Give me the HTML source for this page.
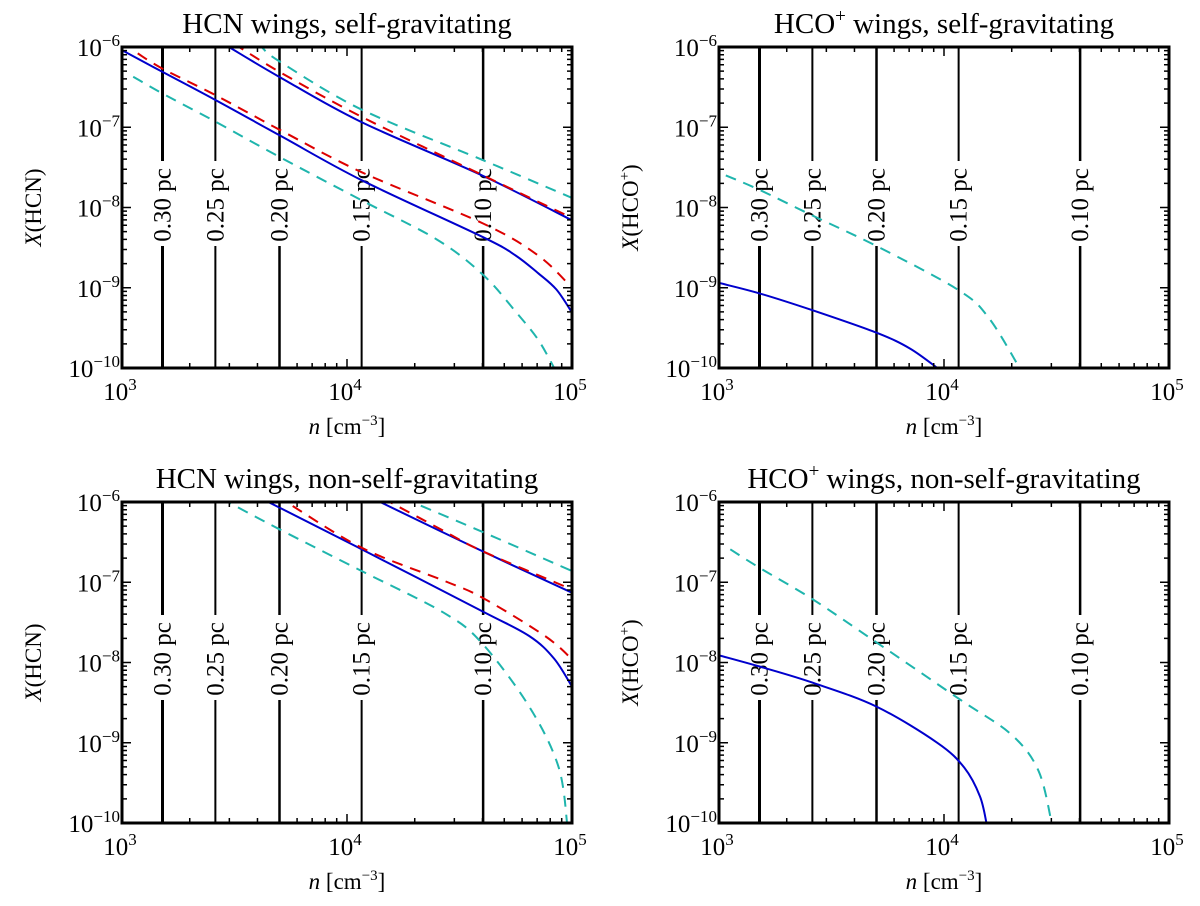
<!DOCTYPE html>
<html><head><meta charset="utf-8">
<style>
html,body{margin:0;padding:0;background:#fff;}
svg{display:block;font-family:"Liberation Serif",serif;}
</style></head>
<body>
<svg id="fig" width="1200" height="906" viewBox="0 0 1200 906" xmlns="http://www.w3.org/2000/svg"></svg>
<script>
// Data: each series is [log10 n, log10 X]
const radiusLabels = ["0.30 pc","0.25 pc","0.20 pc","0.15 pc","0.10 pc"];
const radiusLogN = [3.18, 3.415, 3.70, 4.065, 4.605];
const radiusWidth = [3, 2, 2.5, 2, 2.5];
const xTickExp = [3,4,5];
const yTickExp = [-6,-7,-8,-9,-10];

const tlBlueUpper = [[3.45,-5.96],[3.475,-6],[3.698,-6.37],[4.06,-6.93],[4.6,-7.6],[5,-8.16]];
const tlBlueLower = [[3,-6.04],[3.18,-6.31],[3.415,-6.66],[3.70,-7.1],[4.065,-7.66],[4.605,-8.37],[4.75,-8.6],[4.85,-8.82],[4.93,-9.02],[5,-9.31]];
const tlRedUpper = [[3.5,-5.97],[3.52,-6],[3.70,-6.31],[4.065,-6.87],[4.605,-7.6],[5,-8.13]];
const tlRedLower = [[3.07,-6.08],[3.18,-6.27],[3.415,-6.6],[3.70,-7.03],[4.065,-7.56],[4.605,-8.2],[4.85,-8.6],[5,-9.0]];
const tlCyanUpper = [[3.6,-5.97],[3.62,-6],[3.70,-6.18],[4.065,-6.78],[4.605,-7.41],[5,-7.88]];
const tlCyanLower = [[3.05,-6.37],[3.18,-6.58],[3.415,-6.93],[3.70,-7.37],[4.065,-7.91],[4.4,-8.4],[4.605,-8.84],[4.75,-9.3],[4.85,-9.65],[4.93,-10.05]];

const trBlue = [[3,-8.94],[3.18,-9.07],[3.415,-9.28],[3.70,-9.56],[3.85,-9.76],[3.98,-10.02]];
const trCyan = [[3.03,-7.6],[3.18,-7.78],[3.415,-8.1],[3.70,-8.48],[4.065,-9.03],[4.2,-9.38],[4.34,-10.02]];

const blBlueUpper = [[4.13,-5.97],[4.147,-6],[4.6,-6.61],[5,-7.13]];
const blBlueLower = [[3.63,-5.97],[3.65,-6],[3.70,-6.07],[4.08,-6.61],[4.6,-7.36],[4.81,-7.67],[4.92,-7.95],[5,-8.3]];
const blRedUpper = [[4.17,-5.97],[4.19,-6],[4.43,-6.36],[4.6,-6.61],[5,-7.09]];
const blRedLower = [[3.71,-5.97],[3.73,-6],[4.065,-6.57],[4.43,-6.98],[4.6,-7.19],[4.88,-7.67],[5,-7.96]];
const blCyanUpper = [[4.27,-5.97],[4.29,-6],[4.6,-6.37],[5,-6.86]];
const blCyanLower = [[3.45,-5.97],[3.47,-6],[3.70,-6.34],[4.065,-6.86],[4.43,-7.38],[4.6,-7.76],[4.81,-8.55],[4.94,-9.3],[4.98,-10.05]];

const brBlue = [[3,-7.91],[3.18,-8.05],[3.415,-8.25],[3.70,-8.55],[3.97,-9.0],[4.09,-9.31],[4.16,-9.67],[4.19,-10.02]];
const brCyan = [[3.05,-6.59],[3.18,-6.82],[3.415,-7.21],[3.70,-7.75],[4.065,-8.45],[4.3,-8.9],[4.42,-9.35],[4.48,-10.02]];

const svg = document.getElementById('fig');
const NS = 'http://www.w3.org/2000/svg';
function mk(tag, attrs, parent){
  const e = document.createElementNS(NS, tag);
  for (const k in attrs) e.setAttribute(k, attrs[k]);
  (parent||svg).appendChild(e);
  return e;
}
const BLUE = '#0000cc', RED = '#dd0000', CYAN = '#1fb5ad';

function smoothPath(pts){
  let d = 'M' + pts[0][0].toFixed(1) + ',' + pts[0][1].toFixed(1);
  for (let i = 0; i < pts.length - 1; i++) {
    const p0 = pts[Math.max(0, i-1)], p1 = pts[i], p2 = pts[i+1], p3 = pts[Math.min(pts.length-1, i+2)];
    const c1x = p1[0] + (p2[0]-p0[0])/6, c1y = p1[1] + (p2[1]-p0[1])/6;
    const c2x = p2[0] - (p3[0]-p1[0])/6, c2y = p2[1] - (p3[1]-p1[1])/6;
    d += ` C${c1x.toFixed(1)},${c1y.toFixed(1)} ${c2x.toFixed(1)},${c2y.toFixed(1)} ${p2[0].toFixed(1)},${p2[1].toFixed(1)}`;
  }
  return d;
}

function panel(id, x0, y0, title, ylab, series, labelY){
  const W = 450, H = 321;
  const xs = v => x0 + (v - 3) / 2 * W;
  const ys = v => y0 + (-6 - v) / 4 * H;
  const g = mk('g', {});
  
  
  const cp = mk('clipPath', {id: id + '-clip'}, g);
  mk('rect', {x: x0, y: y0, width: W, height: H}, cp);
  radiusLogN.forEach((ln, i) => {
    const x = xs(ln);
    const l1 = mk('line', {x1: x, x2: x, y1: y0, y2: labelY - 44, stroke: '#000', 'stroke-width': radiusWidth[i]}, g);
    
    
    const l2 = mk('line', {x1: x, x2: x, y1: labelY + 41, y2: y0 + H, stroke: '#000', 'stroke-width': radiusWidth[i]}, g);
    
    
    const t = mk('text', {x: 0, y: 0, transform: `translate(${x+8},${labelY}) rotate(-90)`, 'text-anchor': 'middle', 'font-size': 25, fill: '#000'}, g);
    t.textContent = radiusLabels[i];
    
    
  });
  const cg = mk('g', {'clip-path': `url(#${id}-clip)`}, g);
  series.forEach(s => {
    const pts = s.data.map(p => [xs(p[0]), ys(p[1])]);
    const attrs = {d: smoothPath(pts), fill: 'none', stroke: s.color, 'stroke-width': 2};
    if (s.dash) attrs['stroke-dasharray'] = '11,8';
    const p = mk('path', attrs, cg);
    
    
  });
  let td = '';
  for (let e = 3; e < 5; e++) for (let m = 1; m < 10; m++) {
    const x = xs(e + Math.log10(m));
    const L = m === 1 ? 9 : 5;
    td += `M${x},${y0+H}v${-L}M${x},${y0}v${L}`;
  }
  for (let e = -10; e < -6; e++) for (let m = 1; m < 10; m++) {
    const y = ys(e + Math.log10(m));
    const L = m === 1 ? 9 : 5;
    td += `M${x0},${y}h${L}M${x0+W},${y}h${-L}`;
  }
  mk('path', {d: td, stroke: '#000', 'stroke-width': 1.5, fill: 'none'}, g);
  const box = mk('rect', {x: x0, y: y0, width: W, height: H, fill: 'none', stroke: '#000', 'stroke-width': 3}, g);
  
  
  xTickExp.forEach(e => {
    const t = mk('text', {x: xs(e) - 2, y: y0 + H + 32, 'text-anchor': 'middle', 'font-size': 25}, g);
    t.innerHTML = `10<tspan dy="-10" font-size="17">${e}</tspan>`;
    
    
  });
  yTickExp.forEach(e => {
    const t = mk('text', {x: x0 - 2, y: ys(e) + 9, 'text-anchor': 'end', 'font-size': 25}, g);
    t.innerHTML = `10<tspan dy="-10" font-size="17">\u2212${-e}</tspan>`;
    
    
  });
  const tt = mk('text', {x: x0 + W/2, y: y0 - 14, 'text-anchor': 'middle', 'font-size': 29}, g);
  tt.innerHTML = title;
  
  
  const xl = mk('text', {x: x0 + W/2, y: y0 + H + 66, 'text-anchor': 'middle', 'font-size': 23}, g);
  xl.innerHTML = '<tspan font-style="italic">n</tspan> [cm<tspan dy="-9" font-size="15">\u22123</tspan><tspan dy="9">]</tspan>';
  
  
  const yl = mk('text', {x: 0, y: 0, transform: `translate(${x0-81},${y0+H/2}) rotate(-90)`, 'text-anchor': 'middle', 'font-size': 23}, g);
  yl.innerHTML = ylab;
  
  
}

const xHCN = '<tspan font-style="italic">X</tspan>(HCN)';
const xHCO = '<tspan font-style="italic">X</tspan>(HCO<tspan dy="-9" font-size="15">+</tspan><tspan dy="9">)</tspan>';
const hcoT = 'HCO<tspan dy="-11" font-size="19">+</tspan><tspan dy="11"> wings, </tspan>';

panel('hcn-self', 122, 47, 'HCN wings, self-gravitating', xHCN, [
  {name:'blue-upper', data: tlBlueUpper, color: BLUE},
  {name:'blue-lower', data: tlBlueLower, color: BLUE},
  {name:'red-upper', data: tlRedUpper, color: RED, dash: true},
  {name:'red-lower', data: tlRedLower, color: RED, dash: true},
  {name:'cyan-upper', data: tlCyanUpper, color: CYAN, dash: true},
  {name:'cyan-lower', data: tlCyanLower, color: CYAN, dash: true}
], 205);
panel('hco-self', 719, 47, hcoT + 'self-gravitating', xHCO, [
  {name:'blue', data: trBlue, color: BLUE},
  {name:'cyan', data: trCyan, color: CYAN, dash: true}
], 205);
panel('hcn-nonself', 122, 502, 'HCN wings, non-self-gravitating', xHCN, [
  {name:'blue-upper', data: blBlueUpper, color: BLUE},
  {name:'blue-lower', data: blBlueLower, color: BLUE},
  {name:'red-upper', data: blRedUpper, color: RED, dash: true},
  {name:'red-lower', data: blRedLower, color: RED, dash: true},
  {name:'cyan-upper', data: blCyanUpper, color: CYAN, dash: true},
  {name:'cyan-lower', data: blCyanLower, color: CYAN, dash: true}
], 659);
panel('hco-nonself', 719, 502, hcoT + 'non-self-gravitating', xHCO, [
  {name:'blue', data: brBlue, color: BLUE},
  {name:'cyan', data: brCyan, color: CYAN, dash: true}
], 659);
</script>
</body></html>
